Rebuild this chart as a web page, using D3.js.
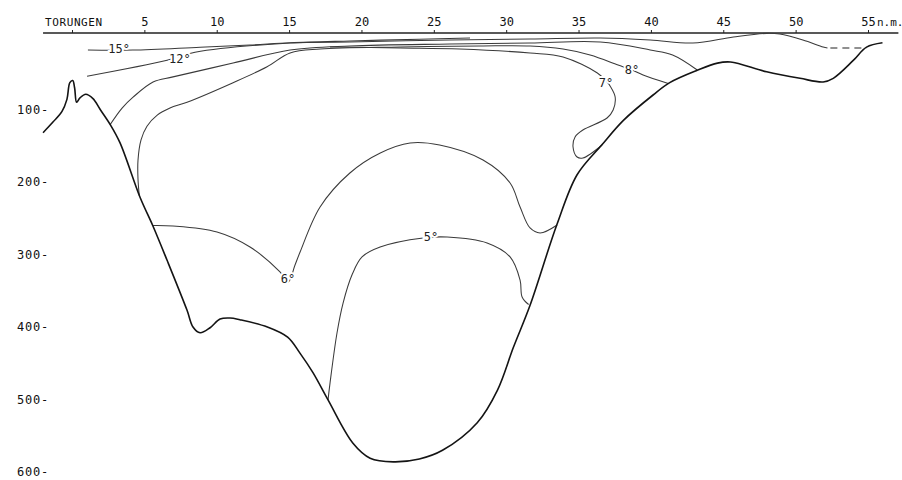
<!DOCTYPE html>
<html>
<head>
<meta charset="utf-8">
<script src="https://cdn.jsdelivr.net/npm/d3@7"></script>
<style>
    body { margin: 0; background: #fff; }
    text { font-family: "DejaVu Sans Mono", monospace; }
</style>
</head>
<body>
<svg class="section"></svg>
<script>
// distance along the section (n.m.) and depth (m)
const xTicks = [5, 10, 15, 20, 25, 30, 35, 40, 45, 50, 55];
const yTicks = [100, 200, 300, 400, 500, 600];

const bottomProfile = [
    [-2.0, 132], [-1.3, 117], [-0.7, 103], [-0.35, 86], [-0.15, 63], [0.05, 60], [0.18, 70],
    [0.32, 90], [0.55, 84], [0.95, 79], [1.45, 85], [1.95, 100], [2.65, 121], [3.32, 146],
    [4.7, 221], [5.6, 261], [6.57, 308], [7.95, 377], [8.36, 400], [8.85, 408], [9.54, 401],
    [10.23, 389], [10.92, 387.6], [11.6, 390], [13.5, 400], [14.9, 414], [15.75, 436],
    [16.65, 463], [17.7, 501], [19.4, 560], [20.6, 581], [22.2, 586], [24.0, 582],
    [25.6, 570], [28.0, 532], [29.4, 487], [30.5, 428], [31.65, 370], [33.5, 259],
    [34.9, 190], [36.6, 149], [38.1, 115], [40.15, 80], [41.3, 63],
    [43.2, 46], [44.6, 36], [45.5, 34.5], [48.0, 48], [50.3, 57], [51.9, 62], [52.6, 57],
    [54.0, 32], [54.9, 14], [56.0, 8]
];

const iso15 = [[1.1, 18], [4.2, 18], [8.85, 14], [12.3, 11], [15.1, 8], [19.2, 5.5], [24, 3], [27.5, 1.5]];

const iso12 = [
    [1.04, 54], [6.57, 32], [8.5, 21], [15.07, 8.3], [19.2, 6.9], [26.1, 4.1], [31.65, 2.8],
    [36.5, 1.4], [39.95, 4.1], [42.9, 8.3], [45.7, 0], [48.0, -5], [48.9, -4], [50.5, 4.1],
    [51.9, 13.8], [52.2, 15.2]
];
const iso12Dashed = [[52.4, 15.2], [54.9, 15.2]];

const iso10 = [
    [2.63, 121], [3.46, 98], [4.22, 83], [5.6, 62], [6.98, 55], [11.13, 36], [15.07, 18],
    [19.2, 12.4], [26.1, 9.7], [31.65, 8.3], [36.5, 6.9], [39.95, 17.9], [41.5, 24.8], [43.2, 45.5]
];

const iso8 = [
    [4.65, 219], [4.56, 196], [4.56, 170], [4.77, 142], [5.18, 123], [5.87, 108], [6.77, 98],
    [7.95, 90], [11.13, 63], [13.48, 41], [15.07, 22], [17.14, 16.6], [22.67, 13.8],
    [28.2, 12.4], [31.65, 12.4], [33.93, 16.6], [35.8, 24.8], [37.73, 38.6], [38.7, 45.5],
    [39.46, 52.4], [41.2, 64]
];

const iso7 = [
    [17.83, 13.8], [22.67, 15.2], [26.8, 16.6], [31.65, 22.1], [33.93, 27.6], [36.3, 49.7],
    [36.97, 62], [37.18, 67.6], [37.53, 82.8], [37.39, 100.7], [36.97, 111.7], [35.3, 128.3],
    [34.76, 137.9], [34.62, 151.7], [34.9, 165.5], [35.3, 166.9], [36.63, 149]
];

const iso6 = [
    [5.6, 260], [6.98, 260.7], [10.02, 269], [12.3, 289.7], [14.37, 324], [14.93, 338],
    [15.41, 314.5], [15.76, 296.6], [17.14, 234.5], [19.2, 187.6], [21.3, 160], [23.36, 146.2],
    [25.4, 149], [28.4, 169.7], [30.27, 201.4], [30.96, 234.5], [31.65, 263.4], [32.34, 270.3],
    [33.52, 259.3]
];

const iso5 = [
    [17.69, 500.7], [17.83, 477], [18.31, 408.3], [18.73, 367], [19.35, 328], [20.04, 303.4],
    [21.29, 289.7], [24.26, 277.2], [25.92, 275.9], [28.68, 284.1], [30.27, 303.4],
    [30.96, 335.2], [31.1, 358.6], [31.55, 369]
];

const labelText = ["15°", "12°", "8°", "7°", "6°", "5°"];
const labelAt = [[3.25, 16], [7.46, 30], [38.7, 45], [36.9, 63], [14.93, 334], [24.8, 276]];

const width = 902, height = 480;

const svg = d3.select(".section")
    .attr("width", width)
    .attr("height", height);

const x = d3.scaleLinear().domain([0, 55]).range([72, 868]);
const y = d3.scaleLinear().domain([0, 600]).range([37, 472]);

// top distance axis
const axisY = 33;
svg.append("line")
    .attr("x1", x(-2)).attr("x2", x(57.1))
    .attr("y1", axisY).attr("y2", axisY)
    .attr("stroke", "#222").attr("stroke-width", 1.3);

const xAxis = svg.append("g")
    .attr("transform", `translate(0,${axisY})`)
    .call(d3.axisTop(x).tickValues([0].concat(xTicks)).tickSize(3).tickPadding(4)
        .tickFormat(d => d === 0 ? "" : d));
xAxis.select(".domain").remove();
xAxis.selectAll(".tick line").attr("stroke", "#222");
xAxis.selectAll(".tick text")
    .style("font-size", "12px")
    .style("font-family", "DejaVu Sans Mono")
    .attr("fill", "#111");

svg.append("text")
    .attr("x", 45).attr("y", 26)
    .style("font-size", "11px")
    .style("letter-spacing", "0.6px")
    .attr("fill", "#111")
    .text("TORUNGEN");

svg.append("text")
    .attr("x", x(55) + 9).attr("y", 26)
    .style("font-size", "11px")
    .attr("fill", "#111")
    .text("n.m.");

// depth labels
const yAxis = svg.append("g")
    .attr("transform", "translate(49,0)")
    .call(d3.axisLeft(y).tickValues(yTicks).tickSize(0).tickPadding(0)
        .tickFormat(d => d + "-"));
yAxis.select(".domain").remove();
yAxis.selectAll(".tick text")
    .style("font-size", "12px")
    .style("font-family", "DejaVu Sans Mono")
    .style("letter-spacing", "0.8px")
    .attr("fill", "#111");

const line = d3.line()
    .x(d => x(d[0]))
    .y(d => y(d[1]))
    .curve(d3.curveCatmullRom.alpha(0.5));

// isotherms
[iso15, iso12, iso10, iso8, iso7, iso6, iso5].forEach(pts => {
    svg.append("path")
        .datum(pts)
        .attr("d", line)
        .attr("fill", "none")
        .attr("stroke", "#3a3a3a")
        .attr("stroke-width", 1.05);
});

svg.append("path")
    .datum(iso12Dashed)
    .attr("d", d3.line().x(d => x(d[0])).y(d => y(d[1])))
    .attr("fill", "none")
    .attr("stroke", "#222")
    .attr("stroke-width", 1.2)
    .attr("stroke-dasharray", "7,5");

// bottom
svg.append("path")
    .datum(bottomProfile)
    .attr("d", line)
    .attr("fill", "none")
    .attr("stroke", "#141414")
    .attr("stroke-width", 1.6);

// isotherm labels
svg.selectAll(".isoLabel")
    .data(labelText)
    .enter().append("text")
    .attr("class", "isoLabel")
    .attr("x", (d, i) => x(labelAt[i][0]))
    .attr("y", (d, i) => y(labelAt[i][1]) + 4)
    .attr("text-anchor", "middle")
    .style("font-size", "12px")
    .style("paint-order", "stroke")
    .attr("stroke", "#fff")
    .attr("stroke-width", 4)
    .attr("fill", "#222")
    .text(d => d);
</script>
</body>
</html>
